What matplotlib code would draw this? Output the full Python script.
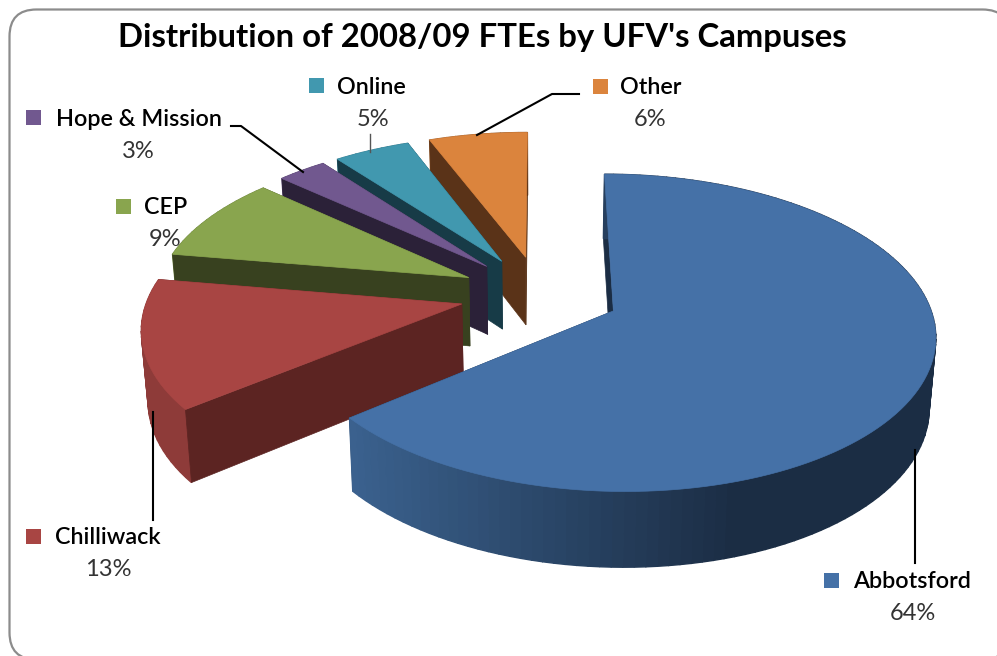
import numpy as np
import matplotlib
matplotlib.use("Agg")
import matplotlib.pyplot as plt
from matplotlib.colors import to_rgb
from matplotlib.patches import FancyBboxPatch, Polygon, Rectangle

names = ["Abbotsford", "Chilliwack", "CEP", "Hope & Mission", "Online", "Other"]
values = [64.2, 13.4, 9.0, 2.95, 4.55, 5.9]
top_colors = ["#4571a7", "#a84543", "#89a54e", "#71588f", "#4198af", "#db843d"]
wall_colors = ["#1b2d44", "#5c2422", "#38411f", "#2b2138", "#173b47", "#5a3318"]
arc_colors = ["#3b628f", "#8e3b39", "#6f8640", "#5c4874", "#357b8e", "#b26b32"]
title = "Distribution of 2008/09 FTEs by UFV's Campuses"

# label layout, pixels: square left, name left, name y, percent centre x, percent y
square_x = [824, 26, 116, 26, 309, 593]
name_x = [853, 55, 144, 56, 337, 620]
name_y = [581, 537, 207, 118, 86, 87]
pct_x = [913, 108, 165, 138, 373, 650]
pct_y = [613, 569, 239, 150, 118, 118]

# projection of the pie plane to pixels
cx, cy = 540, 294
rx, ry = 313, 151
persp = 0.136
explode = 0.256
depth = 69
shrink = 0.983


def project(u, v, bottom=False):
    w = 1 + persp * v
    x = cx + rx * u / w
    y = cy - ry * v / w
    if bottom:
        x = cx + (x - cx) * shrink
        y = y + depth / (1 + 0.08 * v)
    return x, y


def draw_wall(ou, ov, a, color):
    ue, ve = ou + np.sin(a), ov + np.cos(a)
    pts = [project(ou, ov), project(ue, ve), project(ue, ve, True), project(ou, ov, True)]
    ax.add_patch(Polygon(pts, fc=color, ec=color, lw=0.5))


fig = plt.figure(figsize=(9.97, 6.56), dpi=100)
ax = fig.add_axes([0, 0, 1, 1])
ax.set_xlim(0, 997)
ax.set_ylim(656, 0)
ax.axis("off")

ax.add_patch(FancyBboxPatch((9.5, 9.5), 1000, 650, boxstyle="round,pad=0,rounding_size=27",
                            fc="white", ec="#8c8c8c", lw=1.6))

ends = np.cumsum(values) / sum(values) * 360
starts = ends - np.array(values) / sum(values) * 360

# back slices first, the big one last
for i in range(len(values) - 1, -1, -1):
    a0, a1 = np.radians(starts[i]), np.radians(ends[i])
    mid = (a0 + a1) / 2
    ou, ov = explode * np.sin(mid), explode * np.cos(mid)
    th = np.linspace(a0, a1, max(int(values[i] * 2), 12))
    u = ou + np.sin(th)
    v = ov + np.cos(th)

    if i == 0:
        draw_wall(ou, ov, a0, wall_colors[i])
        draw_wall(ou, ov, a1, wall_colors[i])

    # rim, shaded left to right
    light = np.array(to_rgb(arc_colors[i]))
    dark = np.array(to_rgb(wall_colors[i]))
    for j in range(len(th) - 1):
        pts = [project(u[j], v[j]), project(u[j + 1], v[j + 1]),
               project(u[j + 1], v[j + 1], True), project(u[j], v[j], True)]
        t = np.clip((pts[0][0] - 350) / 390, 0, 1)
        c = light + (dark - light) * t
        ax.add_patch(Polygon(pts, fc=c, ec=c, lw=1.0))

    if i > 0:
        draw_wall(ou, ov, a1, wall_colors[i])
        draw_wall(ou, ov, a0, wall_colors[i])

    x, y = project(u, v)
    ox, oy = project(ou, ov)
    ax.add_patch(Polygon(np.column_stack([np.r_[ox, x], np.r_[oy, y]]),
                         fc=top_colors[i], ec=top_colors[i], lw=0.5))

# leader lines
ax.plot([915, 915], [450, 563], color="black", lw=1.5)
ax.plot([153, 153], [412, 520], color="black", lw=1.5)
ax.plot([231, 241, 303], [126, 126, 172], color="black", lw=1.5)
ax.plot([370, 370], [134, 152], color="#555555", lw=1.0)
ax.plot([477, 552, 579], [135, 94, 94], color="black", lw=1.5)

font = "Lato"
ax.text(482, 38, title, ha="center", va="center", fontsize=23.7, fontweight="bold",
        family=font, color="black")
for i in range(len(names)):
    ax.add_patch(Rectangle((square_x[i], name_y[i] - 8), 15, 15, fc=top_colors[i], ec="none"))
    ax.text(name_x[i], name_y[i] + 1, names[i], ha="left", va="center", fontsize=16.8,
            fontweight="semibold", family=font, color="black")
    ax.text(pct_x[i], pct_y[i] + 1, f"{values[i]:.0f}%", ha="center", va="center", fontsize=17,
            family=font, color="#333333")

fig.savefig("out.png", dpi=100)
